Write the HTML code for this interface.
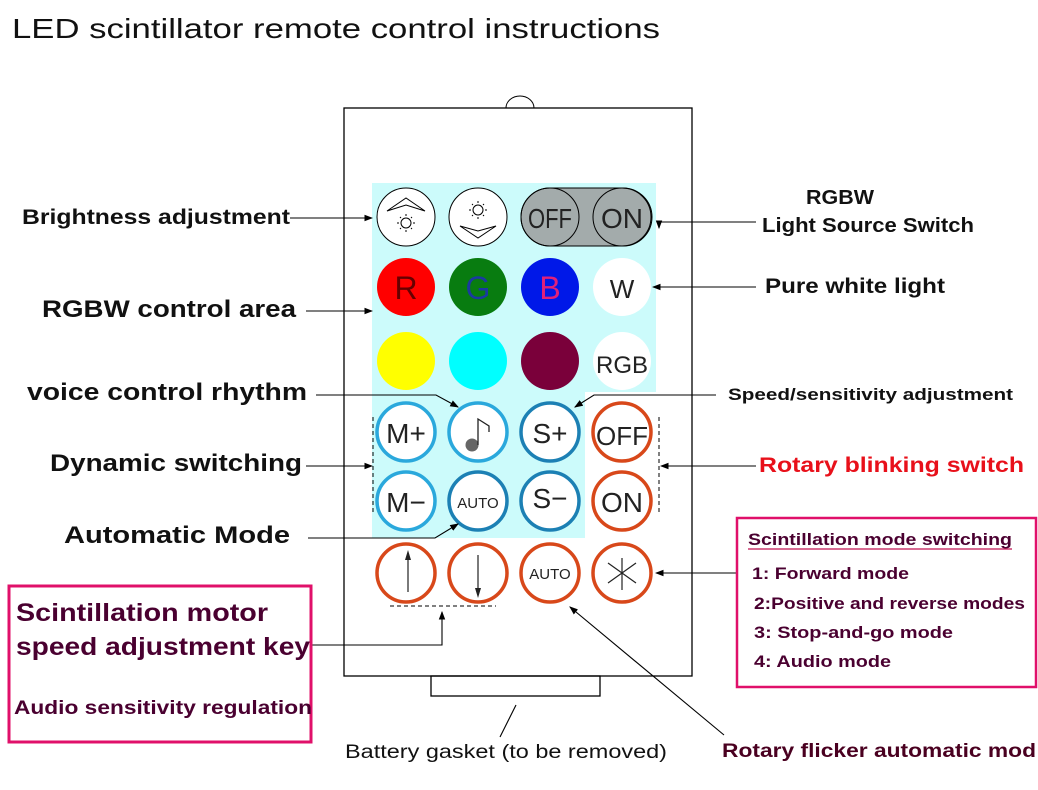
<!DOCTYPE html>
<html><head><meta charset="utf-8"><style>
html,body{margin:0;padding:0;background:#fff;width:1038px;height:790px;overflow:hidden}
svg{display:block}
.b{font-family:"Liberation Sans",sans-serif;font-weight:bold}
.k{font-family:"Liberation Sans",sans-serif}
</style></head><body>
<svg width="1038" height="790" viewBox="0 0 1038 790" xmlns="http://www.w3.org/2000/svg">
<defs><marker id="a" markerWidth="8" markerHeight="6" refX="7" refY="3" orient="auto"><path d="M0,0 L8,3 L0,6z" fill="#000"/></marker></defs>
<text x="12" y="38" class="k" font-size="28" fill="#111" textLength="648" lengthAdjust="spacingAndGlyphs">LED scintillator remote control instructions</text>
<path d="M506,108 A14,12 0 0 1 534,108" fill="none" stroke="#000"/>
<rect x="344" y="108" width="348" height="568" fill="none" stroke="#000" stroke-width="1.3"/>
<rect x="431" y="676" width="169" height="20" fill="none" stroke="#000" stroke-width="1.3"/>
<path d="M372,183 H656 V392 H585 V538 H372Z" fill="#ccfbfb"/>
<g fill="#fff" stroke="#000">
<circle cx="406" cy="217" r="29"/><circle cx="478" cy="217" r="29"/>
</g>
<g fill="none" stroke="#000">
<path d="M387,211 L406,198 L425,211 L406,205Z"/>
<circle cx="406" cy="223" r="5"/>
<path d="M406,214 V216 M406,230 V232 M397,223 H399 M413,223 H415 M400,217 L401,218 M411,228 L412,229 M412,217 L411,218 M400,229 L401,228"/>
<path d="M460,226 L478,238 L496,226 L478,231Z"/>
<circle cx="478" cy="210" r="5"/>
<path d="M478,201 V203 M478,217 V219 M469,210 H471 M485,210 H487 M472,204 L473,205 M483,215 L484,216 M484,204 L483,205 M472,216 L473,215"/>
</g>
<rect x="521" y="188" width="131" height="58" rx="29" fill="#a3abab" stroke="#000"/>
<circle cx="550" cy="217" r="29" fill="none" stroke="#000"/><circle cx="622" cy="217" r="29" fill="none" stroke="#000"/>
<text x="528" y="228" class="k" font-size="28" fill="#222" textLength="44" lengthAdjust="spacingAndGlyphs">OFF</text>
<text x="622" y="228" class="k" font-size="28" text-anchor="middle" fill="#222">ON</text>
<circle cx="406" cy="287" r="29" fill="#f00"/><circle cx="478" cy="287" r="29" fill="#087c10"/>
<circle cx="550" cy="287" r="29" fill="#0018e8"/><circle cx="622" cy="287" r="29" fill="#fff"/>
<text x="406" y="299" class="k" font-size="32" text-anchor="middle" fill="#600">R</text>
<text x="478" y="299" class="k" font-size="32" text-anchor="middle" fill="#1a3aa0">G</text>
<text x="550" y="299" class="k" font-size="32" text-anchor="middle" fill="#e0207a">B</text>
<text x="622" y="298" class="k" font-size="26" text-anchor="middle" fill="#222">W</text>
<circle cx="406" cy="361" r="29" fill="#ff0"/><circle cx="478" cy="361" r="29" fill="#0ff"/>
<circle cx="550" cy="361" r="29" fill="#7a003a"/><circle cx="622" cy="361" r="29" fill="#fff"/>
<text x="622" y="373" class="k" font-size="24" text-anchor="middle" fill="#222">RGB</text>
<g fill="#fff" stroke-width="3.5">
<circle cx="406" cy="432" r="29" stroke="#2aa8dc"/><circle cx="478" cy="432" r="29" stroke="#2aa8dc"/>
<circle cx="550" cy="432" r="29" stroke="#1c80b4"/><circle cx="622" cy="432" r="29" stroke="#d8481a"/>
<circle cx="406" cy="501" r="29" stroke="#2aa8dc"/><circle cx="478" cy="501" r="29" stroke="#1c80b4"/>
<circle cx="550" cy="501" r="29" stroke="#1c80b4"/><circle cx="622" cy="501" r="29" stroke="#d8481a"/>
<circle cx="406" cy="573" r="29" stroke="#d8481a"/><circle cx="478" cy="573" r="29" stroke="#d8481a"/>
<circle cx="550" cy="573" r="29" stroke="#d8481a"/><circle cx="622" cy="573" r="29" stroke="#d8481a"/>
</g>
<g class="k" fill="#222" text-anchor="middle">
<text x="406" y="443" font-size="28">M+</text>
<text x="550" y="443" font-size="28">S+</text>
<text x="622" y="445" font-size="26">OFF</text>
<text x="406" y="512" font-size="28">M−</text>
<text x="478" y="508" font-size="15">AUTO</text>
<text x="550" y="508" font-size="28">S−</text>
<text x="622" y="512" font-size="28">ON</text>
<text x="550" y="579" font-size="15">AUTO</text>
</g>
<circle cx="472" cy="445" r="6.5" fill="#666"/>
<path d="M478,445 V419 L489,426 V432" fill="none" stroke="#222" stroke-width="1.3"/>
<path d="M408,592 V555 M478,555 V594 M608,563 L636,583 M636,563 L608,583 M622,558 V590" stroke="#222" stroke-width="1.2"/>
<path d="M405,560 L408,550 L411,560Z M475,588 L478,598 L481,588Z" fill="#222"/>
<g stroke="#000" stroke-dasharray="4,3" fill="none">
<path d="M373,417 V515"/><path d="M659,417 V515"/><path d="M390,606 H496"/>
</g>
<g stroke="#000" fill="none" stroke-width="1.1">
<path d="M290,218 H372" marker-end="url(#a)"/>
<path d="M756,222 H659 V228" marker-end="url(#a)"/>
<path d="M756,287 H653" marker-end="url(#a)"/>
<path d="M306,311 H372" marker-end="url(#a)"/>
<path d="M316,395 H436 L458,407" marker-end="url(#a)"/>
<path d="M716,395 H594 L575,407" marker-end="url(#a)"/>
<path d="M306,466 H372" marker-end="url(#a)"/>
<path d="M756,466 H661" marker-end="url(#a)"/>
<path d="M308,538 H435 L458,524" marker-end="url(#a)"/>
<path d="M736,573 H656" marker-end="url(#a)"/>
<path d="M312,645 H442 V612" marker-end="url(#a)"/>
<path d="M724,735 L570,607" marker-end="url(#a)"/>
<path d="M500,737 L516,705"/>
</g>
<g class="b" fill="#111">
<text x="22" y="224" font-size="21" textLength="268" lengthAdjust="spacingAndGlyphs">Brightness adjustment</text>
<text x="806" y="204" font-size="20" textLength="68" lengthAdjust="spacingAndGlyphs">RGBW</text>
<text x="762" y="232" font-size="20" textLength="212" lengthAdjust="spacingAndGlyphs">Light Source Switch</text>
<text x="765" y="293" font-size="21" textLength="180" lengthAdjust="spacingAndGlyphs">Pure white light</text>
<text x="42" y="317" font-size="24" textLength="254" lengthAdjust="spacingAndGlyphs">RGBW control area</text>
<text x="27" y="400" font-size="24" textLength="280" lengthAdjust="spacingAndGlyphs">voice control rhythm</text>
<text x="728" y="400" font-size="17" textLength="285" lengthAdjust="spacingAndGlyphs">Speed/sensitivity adjustment</text>
<text x="50" y="471" font-size="24" textLength="252" lengthAdjust="spacingAndGlyphs">Dynamic switching</text>
<text x="759" y="472" font-size="21" fill="#e8101a" textLength="265" lengthAdjust="spacingAndGlyphs">Rotary blinking switch</text>
<text x="64" y="543" font-size="24" textLength="226" lengthAdjust="spacingAndGlyphs">Automatic Mode</text>
<text x="345" y="758" font-size="19" font-weight="normal" textLength="322" lengthAdjust="spacingAndGlyphs">Battery gasket (to be removed)</text>
<text x="722" y="757" font-size="19" fill="#4a0020" textLength="314" lengthAdjust="spacingAndGlyphs">Rotary flicker automatic mod</text>
</g>
<rect x="9" y="586" width="302" height="156" fill="none" stroke="#e0106a" stroke-width="3"/>
<g class="b" fill="#4a0030">
<text x="16" y="621" font-size="25" textLength="252" lengthAdjust="spacingAndGlyphs">Scintillation motor</text>
<text x="16" y="655" font-size="25" textLength="294" lengthAdjust="spacingAndGlyphs">speed adjustment key</text>
<text x="14" y="714" font-size="19" textLength="298" lengthAdjust="spacingAndGlyphs">Audio sensitivity regulation</text>
</g>
<rect x="737" y="518" width="299" height="169" fill="none" stroke="#e0106a" stroke-width="2.5"/>
<g class="b" fill="#4a0030" font-size="17">
<text x="748" y="545" textLength="264" lengthAdjust="spacingAndGlyphs">Scintillation mode switching</text>
<text x="752" y="579" textLength="157" lengthAdjust="spacingAndGlyphs">1: Forward mode</text>
<text x="754" y="609" textLength="271" lengthAdjust="spacingAndGlyphs">2:Positive and reverse modes</text>
<text x="754" y="638" textLength="199" lengthAdjust="spacingAndGlyphs">3: Stop-and-go mode</text>
<text x="754" y="667" textLength="137" lengthAdjust="spacingAndGlyphs">4: Audio mode</text>
</g>
<path d="M748,549 H1012" stroke="#c01050" stroke-width="1.2"/>
</svg>
</body></html>
